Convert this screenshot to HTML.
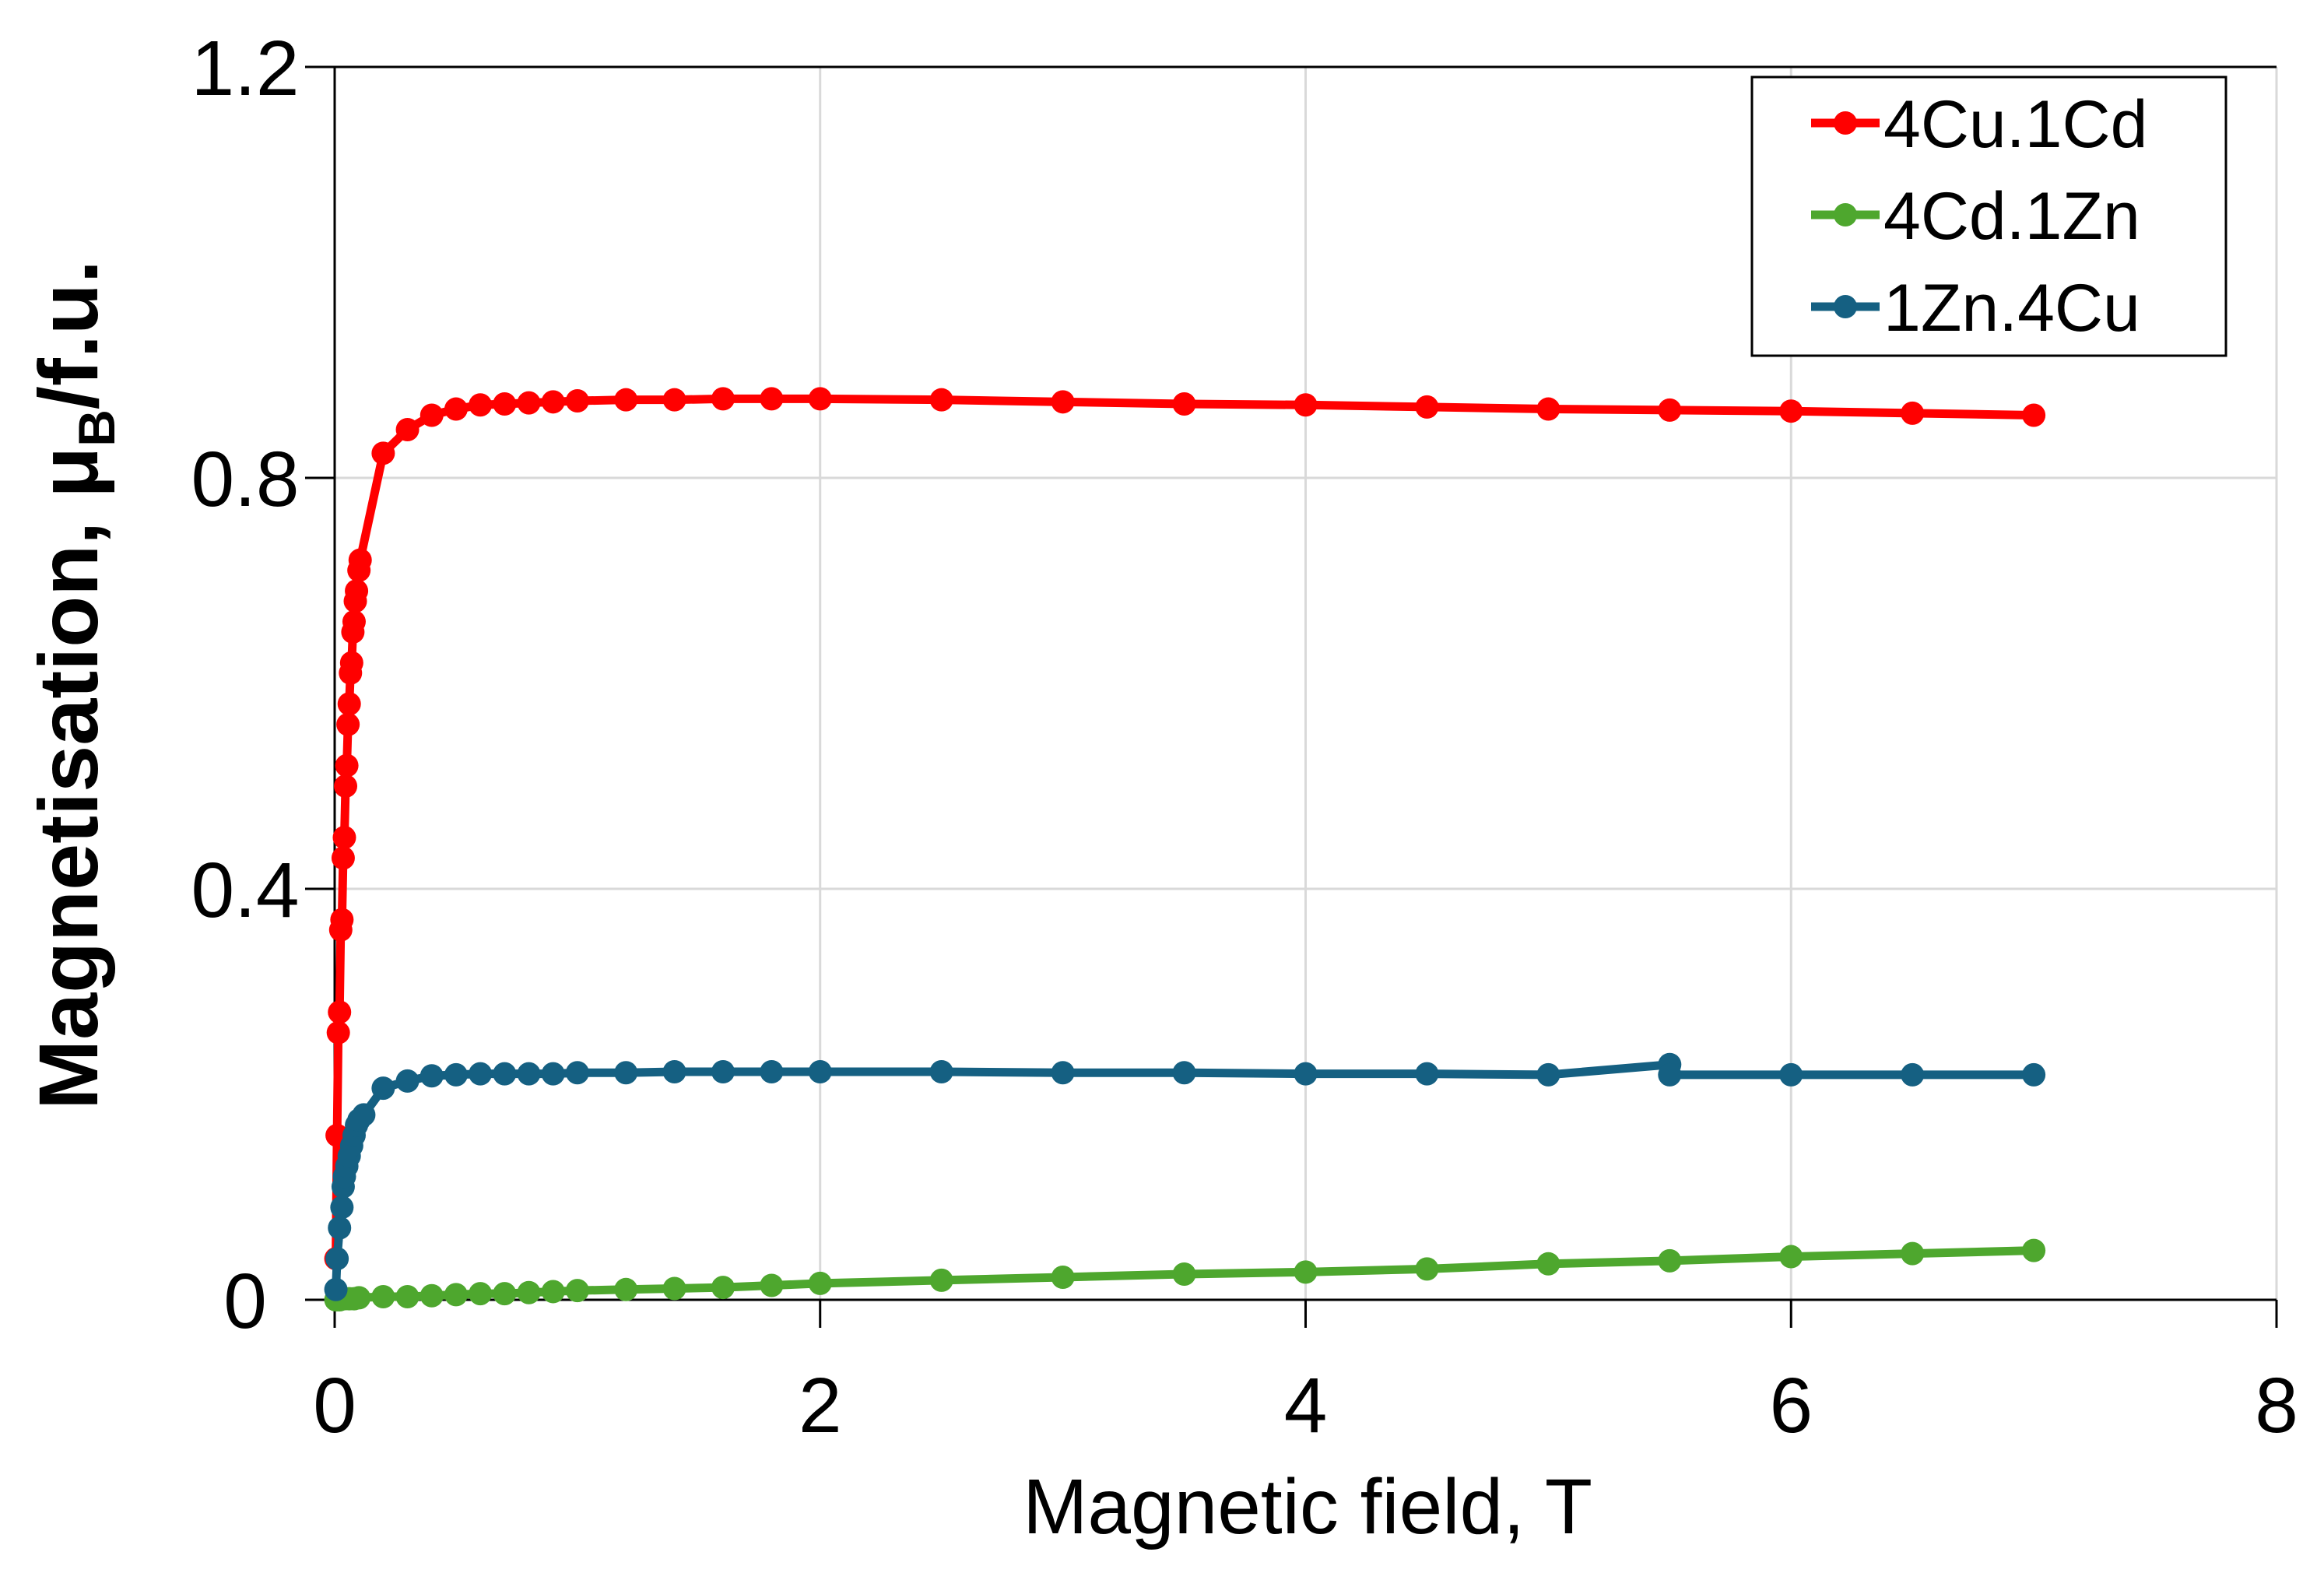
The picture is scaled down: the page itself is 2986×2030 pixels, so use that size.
<!DOCTYPE html>
<html><head><meta charset="utf-8">
<style>
html,body{margin:0;padding:0;background:#fff;}
svg{display:block;font-family:"Liberation Sans",sans-serif;}
</style></head>
<body>
<svg id="chart" width="2986" height="2030" viewBox="0 0 2986 2030" xmlns="http://www.w3.org/2000/svg">
<rect x="0" y="0" width="2986" height="2030" fill="#fff"/>
<g id="grid"></g>
<g id="axes"></g>
<g id="series"></g>
<text x="1680" y="1970" font-size="100" text-anchor="middle" fill="#000">Magnetic field, T</text>
<text transform="translate(125,880) rotate(-90)" font-size="108" font-weight="bold" text-anchor="middle" fill="#000">Magnetisation, μ<tspan font-size="66" dy="22">B</tspan><tspan dy="-22">/f.u.</tspan></text>
<g id="legend">
<rect x="2251" y="99" width="609" height="358" fill="#fff" stroke="#000" stroke-width="3"/>
</g>
</svg>
<script>
const xTicks = [0, 2, 4, 6, 8];
const yTicks = [0, 0.4, 0.8, 1.2];
const yTickLabels = ["0", "0.4", "0.8", "1.2"];
const seriesNames = ["4Cu.1Cd", "4Cd.1Zn", "1Zn.4Cu"];
const seriesColors = ["#ff0000", "#4ea72e", "#156082"];
const redX = [0.005,0.01,0.015,0.02,0.025,0.03,0.035,0.04,0.045,0.05,0.055,0.06,0.065,0.07,0.075,0.08,0.085,0.09,0.1,0.105,0.2,0.3,0.4,0.5,0.6,0.7,0.8,0.9,1.0,1.2,1.4,1.6,1.8,2.0,2.5,3.0,3.5,4.0,4.5,5.0,5.5,6.0,6.5,7.0];
const redY = [0.04,0.16,0.26,0.28,0.36,0.37,0.43,0.45,0.50,0.52,0.56,0.58,0.61,0.62,0.65,0.66,0.68,0.69,0.71,0.72,0.824,0.847,0.861,0.867,0.871,0.872,0.873,0.874,0.875,0.876,0.876,0.877,0.877,0.877,0.876,0.874,0.872,0.871,0.869,0.867,0.866,0.865,0.863,0.861];
const greenX = [0.005,0.02,0.04,0.06,0.08,0.1,0.2,0.3,0.4,0.5,0.6,0.7,0.8,0.9,1.0,1.2,1.4,1.6,1.8,2.0,2.5,3.0,3.5,4.0,4.5,5.0,5.5,6.0,6.5,7.0];
const greenY = [0.0,0.0,0.001,0.001,0.001,0.002,0.003,0.003,0.004,0.005,0.006,0.006,0.007,0.008,0.009,0.010,0.011,0.012,0.014,0.016,0.019,0.022,0.025,0.027,0.030,0.035,0.038,0.042,0.045,0.048];
const blueX = [0.005,0.01,0.02,0.03,0.035,0.04,0.05,0.06,0.07,0.08,0.09,0.1,0.12,0.2,0.3,0.4,0.5,0.6,0.7,0.8,0.9,1.0,1.2,1.4,1.6,1.8,2.0,2.5,3.0,3.5,4.0,4.5,5.0,5.5,5.5,6.0,6.5,7.0];
const blueY = [0.01,0.04,0.07,0.09,0.11,0.12,0.13,0.14,0.15,0.16,0.17,0.175,0.18,0.206,0.213,0.218,0.219,0.220,0.220,0.220,0.220,0.221,0.221,0.222,0.222,0.222,0.222,0.222,0.221,0.221,0.220,0.220,0.219,0.229,0.219,0.219,0.219,0.219];

const NS = "http://www.w3.org/2000/svg";
const X0 = 430, X1 = 2925, Y0 = 1670, Y1 = 86;
function sx(v){ return X0 + (v - 0) / (8 - 0) * (X1 - X0); }
function sy(v){ return Y0 - (v - 0) / (1.2 - 0) * (Y0 - Y1); }
function mk(tag, attrs, parent){
  const e = document.createElementNS(NS, tag);
  for (const k in attrs) e.setAttribute(k, attrs[k]);
  parent.appendChild(e);
  return e;
}
const gridG = document.getElementById('grid');
const axesG = document.getElementById('axes');
xTicks.forEach(function(t){
  if (t > 0) {
    const g = mk('line', {x1: sx(t), x2: sx(t), y1: Y1, y2: Y0, stroke: '#d9d9d9', 'stroke-width': 3}, gridG);
    
    
  }
  const tk = mk('line', {x1: sx(t), x2: sx(t), y1: Y0, y2: Y0 + 36, stroke: '#000', 'stroke-width': 3}, axesG);
  
  
  const lb = mk('text', {x: sx(t), y: Y0 + 170, 'font-size': 100, 'text-anchor': 'middle', fill: '#000'}, axesG);
  lb.textContent = String(t);
  
  
});
yTicks.forEach(function(t, i){
  if (t > 0 && t < 1.2) {
    const g = mk('line', {x1: X0, x2: X1, y1: sy(t), y2: sy(t), stroke: '#d9d9d9', 'stroke-width': 3}, gridG);
    
    
  }
  const tk = mk('line', {x1: X0 - 38, x2: X0, y1: sy(t), y2: sy(t), stroke: '#000', 'stroke-width': 3}, axesG);
  
  
  const lb = mk('text', {x: X0 - 115, y: sy(t) + 36, 'font-size': 100, 'text-anchor': 'middle', fill: '#000'}, axesG);
  lb.textContent = yTickLabels[i];
  
  
});
const plotTopBorder = mk('line', {x1: X0, x2: X1, y1: Y1, y2: Y1, stroke: '#000', 'stroke-width': 3}, axesG);


const plotRightBorder = mk('line', {x1: X1, x2: X1, y1: Y1, y2: Y0, stroke: '#d9d9d9', 'stroke-width': 3}, gridG);


const xAxisLine = mk('line', {x1: X0, x2: X1, y1: Y0, y2: Y0, stroke: '#000', 'stroke-width': 3}, axesG);


const yAxisLine = mk('line', {x1: X0, x2: X0, y1: Y1, y2: Y0, stroke: '#000', 'stroke-width': 3}, axesG);



const seriesG = document.getElementById('series');
function drawSeries(xs, ys, color, name){
  const g = mk('g', {}, seriesG);
  
  
  const pts = xs.map(function(x, i){ return sx(x) + ',' + sy(ys[i]); }).join(' ');
  const pl = mk('polyline', {points: pts, fill: 'none', stroke: color, 'stroke-width': 11, 'stroke-linejoin': 'round'}, g);
  
  
  xs.forEach(function(x, i){
    const c = mk('circle', {cx: sx(x), cy: sy(ys[i]), r: 15, fill: color}, g);
    
    
  });
}
drawSeries(greenX, greenY, seriesColors[1], 'green');
drawSeries(redX, redY, seriesColors[0], 'red');
drawSeries(blueX, blueY, seriesColors[2], 'blue');

const legendG = document.getElementById('legend');
seriesNames.forEach(function(n, i){
  const y = 158 + i * 118;
  const l = mk('line', {x1: 2327, x2: 2415, y1: y, y2: y, stroke: seriesColors[i], 'stroke-width': 11}, legendG);
  
  
  const c = mk('circle', {cx: 2371, cy: y, r: 15, fill: seriesColors[i]}, legendG);
  
  
  const t = mk('text', {x: 2420, y: y + 31, 'font-size': 86, fill: '#000'}, legendG);
  t.textContent = n;
  
  
});
</script>
</body></html>
